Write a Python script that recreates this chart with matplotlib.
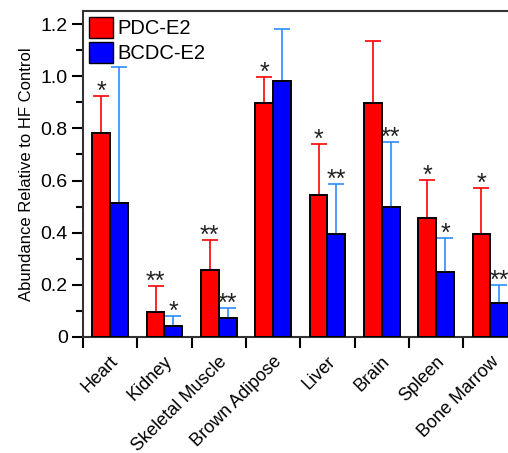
import numpy as np
import matplotlib.pyplot as plt
from matplotlib.patches import Patch
from matplotlib.transforms import ScaledTranslation

plt.rcParams['font.family'] = ['Liberation Sans', 'DejaVu Sans']

# tissues and abundance values
tissues = ['Heart', 'Kidney', 'Skeletal Muscle', 'Brown Adipose',
           'Liver', 'Brain', 'Spleen', 'Bone Marrow']
pdc = [0.781, 0.094, 0.255, 0.897, 0.543, 0.897, 0.455, 0.395]
pdc_err = [0.145, 0.100, 0.116, 0.101, 0.198, 0.239, 0.147, 0.176]
bcdc = [0.512, 0.041, 0.072, 0.983, 0.396, 0.497, 0.250, 0.131]
bcdc_err = [0.524, 0.037, 0.037, 0.199, 0.192, 0.251, 0.129, 0.069]
pdc_sig = ['*', '**', '**', '*', '*', '', '*', '*']
bcdc_sig = ['', '*', '**', '', '**', '**', '*', '**']

RED = '#ff0000'
BLUE = '#0000ff'
LIGHTBLUE = '#2b8cff'
W = 0.33

fig = plt.figure(figsize=(5.08, 4.53), dpi=100)
ax = fig.add_axes([0.1634, 0.2567, 0.8555, 0.719])

x = np.arange(len(tissues))
ax.bar(x - W / 2, pdc, W, color=RED, edgecolor='black', linewidth=1.4, zorder=3)
ax.bar(x + W / 2, bcdc, W, color=BLUE, edgecolor='black', linewidth=1.4, zorder=3)

# one-sided error bars (upper only)
ax.errorbar(x - W / 2, pdc, yerr=[np.zeros(len(x)), pdc_err], fmt='none',
            ecolor=RED, elinewidth=1.2, capsize=6, capthick=1.2, zorder=2)
ax.errorbar(x + W / 2, bcdc, yerr=[np.zeros(len(x)), bcdc_err], fmt='none',
            ecolor=LIGHTBLUE, elinewidth=1.2, capsize=6, capthick=1.2, zorder=2)

# significance stars just above the caps
for i in range(len(x)):
    if pdc_sig[i]:
        ax.annotate(pdc_sig[i], (x[i] - W / 2, pdc[i] + pdc_err[i]),
                    xytext=(0, -2), textcoords='offset points',
                    ha='center', va='baseline', fontsize=18, color='#222222')
    if bcdc_sig[i]:
        ax.annotate(bcdc_sig[i], (x[i] + W / 2, bcdc[i] + bcdc_err[i]),
                    xytext=(0, -2), textcoords='offset points',
                    ha='center', va='baseline', fontsize=18, color='#222222')

ax.set_xlim(-0.5, 7.5)
ax.set_ylim(0, 1.251)

ax.set_yticks(np.arange(0, 1.21, 0.2))
ax.set_yticklabels(['0', '0.2', '0.4', '0.6', '0.8', '1.0', '1.2'])
ax.set_yticks(np.arange(0.1, 1.21, 0.2), minor=True)
ax.tick_params(axis='y', which='major', direction='out', length=8, width=1.5,
               labelsize=14, pad=3)
ax.tick_params(axis='y', which='minor', direction='out', length=5, width=1.5)

ax.set_xticks(np.arange(-0.5, 7.6, 1.0))
ax.set_xticklabels([])
ax.set_xticks(x, minor=True)
ax.set_xticklabels(tissues, minor=True, rotation=45, ha='right', va='center',
                   rotation_mode='anchor', fontsize=13)
ax.tick_params(axis='x', which='major', direction='out', length=8, width=1.5)
ax.tick_params(axis='x', which='minor', length=0, pad=16)
shift = ScaledTranslation(4 / 72, 0, fig.dpi_scale_trans)
for lbl in ax.get_xticklabels(minor=True):
    lbl.set_transform(lbl.get_transform() + shift)

for s in ax.spines.values():
    s.set_linewidth(1.5)
    s.set_color('#333333')

ax.set_ylabel('Abundance Relative to HF Control', fontsize=12, labelpad=5)

handles = [Patch(facecolor=RED, edgecolor='black', linewidth=1.0, label='PDC-E2'),
           Patch(facecolor=BLUE, edgecolor='black', linewidth=1.0, label='BCDC-E2')]
ax.legend(handles=handles, loc='upper left', frameon=False, fontsize=14.5,
          handlelength=1.2, handleheight=1.2, handletextpad=0.2,
          borderaxespad=0.1, labelspacing=0.2, borderpad=0.2)

fig.savefig('out.png', dpi=100)
